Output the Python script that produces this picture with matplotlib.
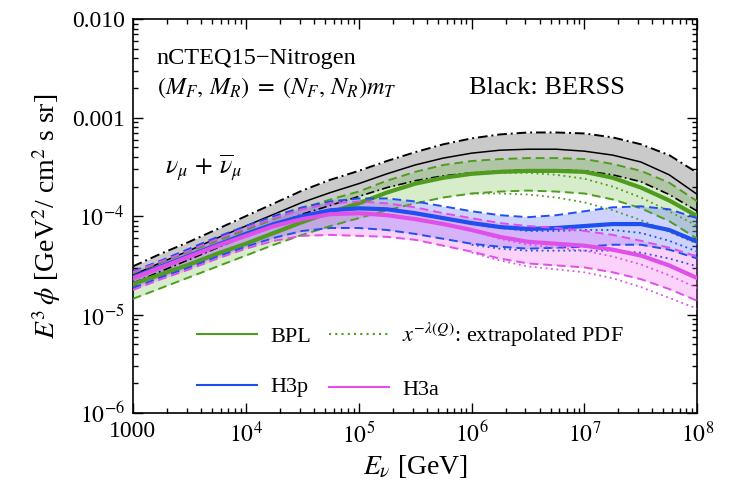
import matplotlib
matplotlib.use("Agg")
import matplotlib.pyplot as plt
from matplotlib.lines import Line2D
import numpy as np

# ---------------- data (log10 of E^3 phi) ----------------
logE = [3.0, 3.25, 3.5, 3.75, 4.0, 4.25, 4.5, 4.75, 5.0, 5.25, 5.5,
        5.75, 6.0, 6.25, 6.5, 6.75, 7.0, 7.25, 7.5, 7.75, 8.0]

berss_up = [-4.51, -4.38, -4.26, -4.13, -4.00, -3.87, -3.74, -3.63, -3.54, -3.44, -3.35,
            -3.27, -3.21, -3.17, -3.15, -3.15, -3.16, -3.20, -3.27, -3.38, -3.56]
berss_c = [-4.60, -4.47, -4.35, -4.22, -4.10, -3.98, -3.86, -3.76, -3.67, -3.57, -3.48,
           -3.41, -3.36, -3.33, -3.32, -3.32, -3.34, -3.38, -3.45, -3.58, -3.78]
berss_lo = [-4.68, -4.56, -4.44, -4.32, -4.20, -4.09, -3.98, -3.89, -3.80, -3.71, -3.64,
            -3.59, -3.56, -3.54, -3.53, -3.53, -3.54, -3.58, -3.65, -3.78, -3.95]

bpl_up = [-4.58, -4.47, -4.36, -4.25, -4.14, -4.03, -3.92, -3.83, -3.75, -3.64, -3.55,
          -3.48, -3.44, -3.42, -3.41, -3.41, -3.42, -3.47, -3.54, -3.66, -3.85]
bpl_c = [-4.69, -4.59, -4.49, -4.38, -4.28, -4.17, -4.06, -3.96, -3.87, -3.76, -3.67,
         -3.61, -3.57, -3.55, -3.54, -3.54, -3.55, -3.61, -3.71, -3.84, -4.00]
bpl_lo = [-4.84, -4.73, -4.62, -4.51, -4.40, -4.29, -4.19, -4.10, -4.02, -3.94, -3.87,
          -3.81, -3.77, -3.75, -3.74, -3.75, -3.77, -3.83, -3.92, -4.05, -4.23]

h3p_up = [-4.56, -4.45, -4.33, -4.21, -4.10, -4.00, -3.91, -3.85, -3.82, -3.82, -3.85,
          -3.90, -3.95, -3.99, -4.01, -3.99, -3.95, -3.91, -3.90, -3.93, -4.02]
h3p_c = [-4.62, -4.51, -4.40, -4.29, -4.18, -4.08, -4.00, -3.94, -3.92, -3.93, -3.97,
         -4.02, -4.07, -4.11, -4.13, -4.12, -4.10, -4.08, -4.08, -4.14, -4.26]
h3p_lo = [-4.73, -4.62, -4.52, -4.41, -4.31, -4.22, -4.15, -4.12, -4.12, -4.14, -4.18,
          -4.23, -4.28, -4.31, -4.33, -4.32, -4.31, -4.29, -4.29, -4.34, -4.43]

h3a_up = [-4.57, -4.46, -4.35, -4.23, -4.12, -4.02, -3.93, -3.87, -3.85, -3.87, -3.91,
          -3.97, -4.02, -4.07, -4.10, -4.12, -4.15, -4.19, -4.25, -4.32, -4.41]
h3a_c = [-4.63, -4.52, -4.41, -4.30, -4.20, -4.10, -4.03, -3.98, -3.97, -3.99, -4.03,
         -4.08, -4.14, -4.21, -4.26, -4.28, -4.30, -4.34, -4.40, -4.50, -4.63]
h3a_lo = [-4.75, -4.64, -4.54, -4.43, -4.33, -4.25, -4.20, -4.19, -4.20, -4.21, -4.24,
          -4.30, -4.36, -4.43, -4.48, -4.50, -4.52, -4.57, -4.64, -4.74, -4.86]

# extrapolated-PDF (dotted) variants at high energy
logE_x = [6.0, 6.25, 6.5, 6.75, 7.0, 7.25, 7.5, 7.75, 8.0]
bpl_c_x = [-3.57, -3.56, -3.56, -3.58, -3.62, -3.70, -3.81, -3.95, -4.10]
bpl_lo_x = [-3.77, -3.77, -3.78, -3.81, -3.86, -3.94, -4.04, -4.16, -4.28]
h3p_c_x = [-4.08, -4.12, -4.15, -4.15, -4.14, -4.14, -4.17, -4.25, -4.36]
h3p_lo_x = [-4.29, -4.33, -4.35, -4.35, -4.35, -4.35, -4.37, -4.43, -4.51]
h3a_c_x = [-4.15, -4.23, -4.29, -4.32, -4.35, -4.41, -4.49, -4.60, -4.73]
h3a_lo_x = [-4.37, -4.45, -4.51, -4.54, -4.57, -4.63, -4.72, -4.83, -4.94]

xticks = [1e3, 1e4, 1e5, 1e6, 1e7, 1e8]
xticklabels = ['1000', r'$10^{4}$', r'$10^{5}$', r'$10^{6}$', r'$10^{7}$', r'$10^{8}$']
yticks = [1e-6, 1e-5, 1e-4, 1e-3, 1e-2]
yticklabels = [r'$10^{-6}$', r'$10^{-5}$', r'$10^{-4}$', '0.001', '0.010']

# ---------------- style ----------------
plt.rcParams['font.family'] = ['Liberation Serif', 'DejaVu Serif']
plt.rcParams['mathtext.fontset'] = 'stix'

GREEN = '#4f9c1f'
BLUE = '#1f4ff0'
MAG = '#e050e8'
DOT = (0, (1, 2))
DASH = (0, (4.5, 2.5))
DASHDOT = (0, (5, 2, 1, 2))


def p(v):
    return 10.0 ** np.asarray(v)


E = p(logE)
Ex = p(logE_x)

fig = plt.figure(figsize=(7.38, 4.93), dpi=100)
ax = fig.add_axes([0.180, 0.162, 0.765, 0.799])

# bands
ax.fill_between(E, p(berss_lo), p(berss_up), color='#a8a8a8', alpha=0.6, lw=0, zorder=1)
ax.fill_between(E, p(bpl_lo), p(bpl_up), color='#6dbb45', alpha=0.28, lw=0, zorder=2)
ax.fill_between(E, p(h3p_lo), p(h3p_up), color='#5a6cff', alpha=0.30, lw=0, zorder=3)
ax.fill_between(E, p(h3a_lo), p(h3a_up), color='#f060f0', alpha=0.28, lw=0, zorder=4)

# BERSS lines
ax.plot(E, p(berss_up), color='black', lw=1.4, ls=DASHDOT, zorder=10)
ax.plot(E, p(berss_lo), color='black', lw=1.2, ls=DASHDOT, zorder=10)
ax.plot(E, p(berss_c), color='black', lw=1.1, zorder=10)

# BPL
ax.plot(E, p(bpl_up), color=GREEN, lw=1.4, ls=DASH, zorder=11)
ax.plot(E, p(bpl_lo), color=GREEN, lw=1.4, ls=DASH, zorder=11)
ax.plot(E, p(bpl_c), color=GREEN, lw=3.0, zorder=12)
ax.plot(Ex, p(bpl_c_x), color=GREEN, lw=1.3, ls=DOT, zorder=12)
ax.plot(Ex, p(bpl_lo_x), color=GREEN, lw=1.3, ls=DOT, zorder=12)
# H3p
ax.plot(E, p(h3p_up), color=BLUE, lw=1.4, ls=DASH, zorder=13)
ax.plot(E, p(h3p_lo), color=BLUE, lw=1.4, ls=DASH, zorder=13)
ax.plot(E, p(h3p_c), color=BLUE, lw=3.0, zorder=14)
ax.plot(Ex, p(h3p_c_x), color=BLUE, lw=1.3, ls=DOT, zorder=14)
ax.plot(Ex, p(h3p_lo_x), color=BLUE, lw=1.3, ls=DOT, zorder=14)
# H3a
ax.plot(E, p(h3a_up), color=MAG, lw=1.4, ls=DASH, zorder=15)
ax.plot(E, p(h3a_lo), color=MAG, lw=1.4, ls=DASH, zorder=15)
ax.plot(E, p(h3a_c), color=MAG, lw=3.0, zorder=16)
ax.plot(Ex, p(h3a_c_x), color=MAG, lw=1.3, ls=DOT, zorder=16)
ax.plot(Ex, p(h3a_lo_x), color=MAG, lw=1.3, ls=DOT, zorder=16)

ax.set_xscale('log')
ax.set_yscale('log')
ax.set_xlim(1e3, 1e8)
ax.set_ylim(1e-6, 1e-2)
ax.set_xticks(xticks)
ax.set_xticklabels(xticklabels)
ax.set_yticks(yticks)
ax.set_yticklabels(yticklabels)
ax.tick_params(which='both', direction='in', top=True, right=True, labelsize=17, width=1.0)
ax.tick_params(which='major', length=7, pad=6)
ax.tick_params(which='minor', length=3.5)
for s in ax.spines.values():
    s.set_linewidth(1.2)

ax.set_xlabel(r'$E_\nu$ [GeV]', fontsize=20, labelpad=4)
ax.set_ylabel(r'$E^3\,\phi$ [GeV$^2$/ cm$^2$ s sr]', fontsize=20, labelpad=6)

ax.text(0.042, 0.901, 'nCTEQ15\u2212Nitrogen', transform=ax.transAxes, fontsize=17.5, va='center', ha='left')
ax.text(0.042, 0.827, r'$(M_F,\, M_R)\; =\; (N_F,\, N_R) m_T$', transform=ax.transAxes, fontsize=17.5, va='center', ha='left')
ax.text(0.596, 0.825, 'Black: BERSS', transform=ax.transAxes, fontsize=19, va='center', ha='left')
ax.text(0.057, 0.624, r'$\nu_\mu\,+\,\overline{\nu}_\mu$', transform=ax.transAxes, fontsize=18.5, va='center', ha='left')

h_bpl = Line2D([], [], color=GREEN, lw=1.5)
h_x = Line2D([], [], color=GREEN, lw=1.5, ls=DOT)
h_h3p = Line2D([], [], color=BLUE, lw=1.5)
h_h3a = Line2D([], [], color=MAG, lw=1.5)
leg = ax.legend([h_bpl, h_h3p, h_x, h_h3a],
                ['BPL', 'H3p', r'$x^{-\lambda(Q)}$: extrapolated PDF', 'H3a'],
                ncol=2, frameon=False, fontsize=16, loc='lower left',
                bbox_to_anchor=(0.078, -0.017), handlelength=2.7, handletextpad=0.6,
                columnspacing=0.8, labelspacing=1.35)

fig.savefig('out.png', dpi=100)
